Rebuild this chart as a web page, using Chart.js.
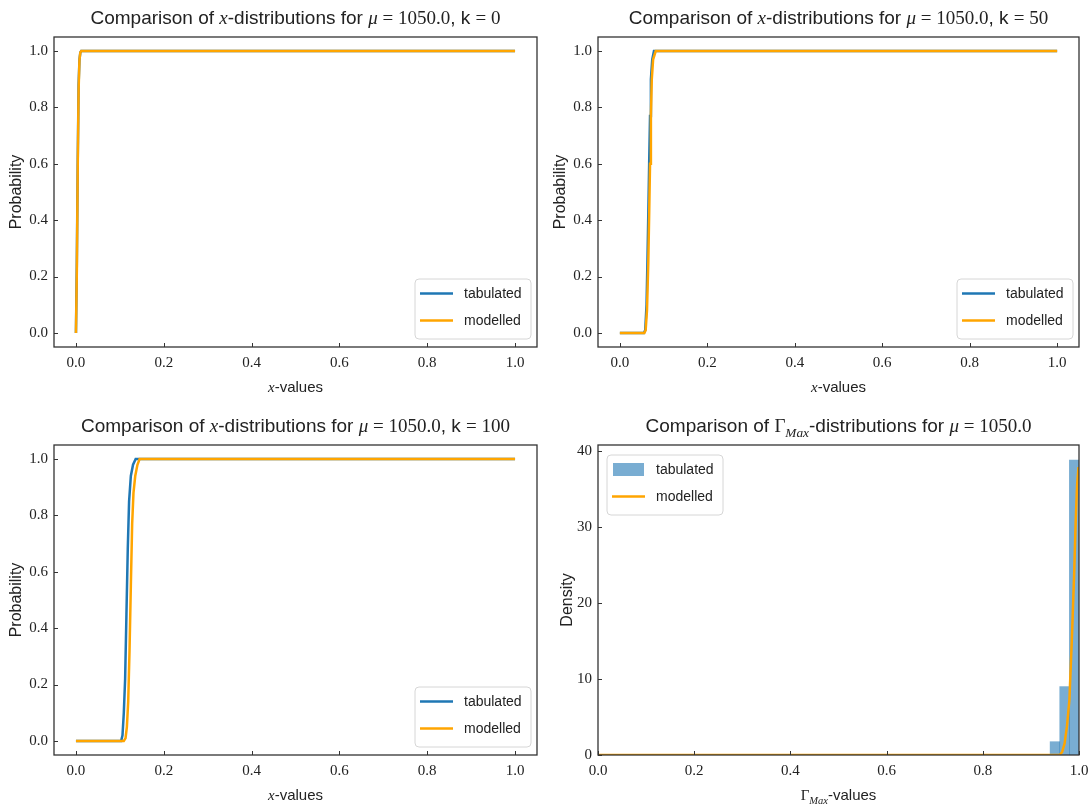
<!DOCTYPE html>
<html>
<head>
<meta charset="utf-8">
<script src="https://cdn.jsdelivr.net/npm/chart.js@4.4.1/dist/chart.umd.min.js"></script>
<style>
  html, body { margin: 0; padding: 0; background: #fff; overflow: hidden; }
  #wrap { position: relative; width: 1090px; height: 808px; overflow: hidden; }
  #wrap canvas { position: absolute; left: 0; top: 0; }
</style>
</head>
<body>
<div id="wrap">
  <canvas id="k0" width="1130" height="808"></canvas>
  <canvas id="k50" width="1130" height="808"></canvas>
  <canvas id="k100" width="1130" height="808"></canvas>
  <canvas id="gmax" width="1130" height="808"></canvas>
</div>
<script>
// ---- DATA ----
const X_TICKS = [0, 0.2, 0.4, 0.6, 0.8, 1.0];
const PROB_TICKS = [0, 0.2, 0.4, 0.6, 0.8, 1.0];
const DENSITY_TICKS = [0, 10, 20, 30, 40];

// k = 0 (both curves practically identical)
const K0_TAB_X = [0, 0.002, 0.004, 0.006, 0.008, 0.010, 0.012, 1.0];
const K0_TAB_Y = [0, 0.25, 0.60, 0.88, 0.97, 0.995, 1.0, 1.0];
const K0_MOD_X = [0, 0.002, 0.004, 0.006, 0.008, 0.010, 0.012, 1.0];
const K0_MOD_Y = [0, 0.22, 0.58, 0.86, 0.97, 0.995, 1.0, 1.0];

// k = 50
const K50_TAB_X = [0, 0.055, 0.058, 0.061, 0.063, 0.065, 0.067, 0.069, 0.071, 0.074, 0.078, 1.0];
const K50_TAB_Y = [0, 0, 0.01, 0.10, 0.25, 0.42, 0.60, 0.77, 0.90, 0.97, 1.0, 1.0];
const K50_MOD_X = [0, 0.056, 0.059, 0.062, 0.065, 0.067, 0.069, 0.071, 0.073, 0.076, 0.082, 1.0];
const K50_MOD_Y = [0, 0, 0.01, 0.08, 0.25, 0.42, 0.60, 0.77, 0.90, 0.97, 1.0, 1.0];

// k = 100
const K100_TAB_X = [0, 0.103, 0.106, 0.109, 0.112, 0.115, 0.118, 0.121, 0.125, 0.130, 0.136, 1.0];
const K100_TAB_Y = [0, 0, 0.02, 0.10, 0.22, 0.45, 0.68, 0.85, 0.94, 0.98, 1.0, 1.0];
const K100_MOD_X = [0, 0.109, 0.113, 0.116, 0.119, 0.122, 0.125, 0.128, 0.131, 0.135, 0.140, 0.145, 1.0];
const K100_MOD_Y = [0, 0, 0.01, 0.05, 0.14, 0.32, 0.55, 0.77, 0.88, 0.94, 0.98, 1.0, 1.0];

// Gamma_Max histogram (bin centres, width 0.02) + modelled density
const GMAX_BIN_X = [0.95, 0.97, 0.99];
const GMAX_DENSITY = [1.75, 9.0, 38.8];
const GMAX_MOD_X = [0, 0.96, 0.965, 0.97, 0.975, 0.98, 0.985, 0.99, 0.993, 0.996, 0.999];
const GMAX_MOD_Y = [0, 0, 0.4, 1.5, 3.8, 7.2, 15, 24, 30.5, 35.5, 37.9];

// ---- STYLE ----
const BLUE = "#1f77b4";
const ORANGE = "#ffa500";
const HIST_FILL = "rgba(31,119,180,0.6)";
const SANS = '"Liberation Sans", sans-serif';
const SERIF = '"Liberation Serif", serif';
const CANVAS_W = 1130; // wider than the page so the "1.0" label never squeezes the plot
const Y_AXIS_W = 45;
const X_AXIS_H = 40;

// plot areas in page pixels
const AREAS = {
  k0:   { left: 54,  top: 37,  right: 537,  bottom: 347 },
  k50:  { left: 598, top: 37,  right: 1079, bottom: 347 },
  k100: { left: 54,  top: 445, right: 537,  bottom: 755 },
  gmax: { left: 598, top: 445, right: 1079, bottom: 755 }
};

const xSeg = [{ t: "x", f: "it" }, { t: "-values", f: "sans" }];
function kTitle(k) {
  return [
    { t: "Comparison of ", f: "sans" }, { t: "x", f: "it" },
    { t: "-distributions for ", f: "sans" }, { t: "\u03bc", f: "it" },
    { t: " = 1050.0", f: "serif" }, { t: ", k ", f: "sans" }, { t: "= " + k, f: "serif" }
  ];
}

const PANELS = {
  k0:   { title: kTitle(0),   xTitle: xSeg, yTitle: "Probability", yOff: 33, legend: "lr" },
  k50:  { title: kTitle(50),  xTitle: xSeg, yTitle: "Probability", yOff: 33, legend: "lr" },
  k100: { title: kTitle(100), xTitle: xSeg, yTitle: "Probability", yOff: 33, legend: "lr" },
  gmax: {
    title: [
      { t: "Comparison of ", f: "sans" }, { t: "\u0393", f: "serif" }, { t: "Max", f: "it", sub: true },
      { t: "-distributions for ", f: "sans" }, { t: "\u03bc", f: "it" }, { t: " = 1050.0", f: "serif" }
    ],
    xTitle: [{ t: "\u0393", f: "serif" }, { t: "Max", f: "it", sub: true }, { t: "-values", f: "sans" }],
    yTitle: "Density", yOff: 26.5, legend: "ul"
  }
};

function segFont(seg, size) {
  if (seg.f === "it") return `italic ${size}px ${SERIF}`;
  if (seg.f === "serif") return `${size}px ${SERIF}`;
  return `${size}px ${SANS}`;
}

function drawRich(ctx, segs, cx, baseY, size) {
  let total = 0;
  const widths = segs.map(s => {
    ctx.font = segFont(s, s.sub ? size * 0.7 : size);
    const w = ctx.measureText(s.t).width;
    total += w;
    return w;
  });
  let x = cx - total / 2;
  ctx.textAlign = "left";
  ctx.textBaseline = "alphabetic";
  segs.forEach((s, i) => {
    ctx.font = segFont(s, s.sub ? size * 0.7 : size);
    ctx.fillText(s.t, x, baseY + (s.sub ? size * 0.25 : 0));
    x += widths[i];
  });
}

function drawLegend(ctx, area, corner, items) {
  const w = 116, h = 60;
  const x = corner === "lr" ? area.right - 6 - w : area.left + 9;
  const y = corner === "lr" ? area.bottom - 8 - h : area.top + 10;
  ctx.save();
  ctx.beginPath();
  ctx.roundRect(x, y, w, h, 4);
  ctx.fillStyle = "rgba(255,255,255,0.85)";
  ctx.fill();
  ctx.strokeStyle = "#d6d6d6";
  ctx.lineWidth = 1;
  ctx.stroke();
  items.forEach((it, i) => {
    const ry = y + 14.5 + i * 27;
    if (it.patch) {
      ctx.fillStyle = it.color;
      ctx.fillRect(x + 6, ry - 6.5, 31, 13);
    } else {
      ctx.strokeStyle = it.color;
      ctx.lineWidth = 2.5;
      ctx.beginPath();
      ctx.moveTo(x + 5, ry);
      ctx.lineTo(x + 38, ry);
      ctx.stroke();
    }
    ctx.fillStyle = "#222";
    ctx.font = `14px ${SANS}`;
    ctx.textAlign = "left";
    ctx.textBaseline = "middle";
    ctx.fillText(it.label, x + 49, ry + 1);
  });
  ctx.restore();
}

// frame, inward ticks, titles and legend
const framePlugin = {
  id: "frame",
  afterDraw(chart) {
    const p = PANELS[chart.canvas.id];
    const { ctx, chartArea: a } = chart;
    const xs = chart.scales.x, ys = chart.scales.y;
    ctx.save();
    ctx.strokeStyle = "#333";
    ctx.lineWidth = 1;
    xs.ticks.forEach(t => {
      const px = Math.round(xs.getPixelForValue(t.value)) + 0.5;
      ctx.beginPath(); ctx.moveTo(px, a.bottom); ctx.lineTo(px, a.bottom - 4); ctx.stroke();
    });
    ys.ticks.forEach(t => {
      const py = Math.round(ys.getPixelForValue(t.value)) + 0.5;
      ctx.beginPath(); ctx.moveTo(a.left, py); ctx.lineTo(a.left + 4, py); ctx.stroke();
    });
    ctx.lineWidth = 1.3;
    ctx.strokeRect(a.left, a.top, a.right - a.left, a.bottom - a.top);

    ctx.fillStyle = "#222";
    const cx = (a.left + a.right) / 2;
    drawRich(ctx, p.title, cx, a.top - 13, 19);
    drawRich(ctx, p.xTitle, cx, a.bottom + 45, 15);

    ctx.translate(a.left - p.yOff, (a.top + a.bottom) / 2);
    ctx.rotate(-Math.PI / 2);
    ctx.font = `16px ${SANS}`;
    ctx.textAlign = "center";
    ctx.textBaseline = "alphabetic";
    ctx.fillText(p.yTitle, 0, 0);
    ctx.restore();

    const items = chart.data.datasets.slice().sort((d1, d2) => d2.order - d1.order).map(d => ({
      label: d.label,
      color: d.type === "bar" ? d.backgroundColor : d.borderColor,
      patch: d.type === "bar"
    }));
    drawLegend(ctx, a, p.legend, items);
  }
};

function zip(xs, ys) {
  return xs.map((x, i) => ({ x, y: ys[i] }));
}

function lineSet(label, color, xs, ys, order) {
  return {
    type: "line", label, data: zip(xs, ys), borderColor: color, backgroundColor: color,
    borderWidth: 2.5, pointRadius: 0, tension: 0, fill: false, order
  };
}

function scaleCfg(min, max, ticks, fmt, horizontal) {
  return {
    type: "linear", min, max, offset: false,
    grid: { display: false, drawTicks: false },
    border: { display: false },
    afterBuildTicks: s => { s.ticks = ticks.map(v => ({ value: v })); },
    afterFit: s => { if (horizontal) s.height = X_AXIS_H; else s.width = Y_AXIS_W; },
    ticks: {
      font: { family: SERIF, size: 15 }, color: "#222",
      padding: horizontal ? 7 : 6, maxRotation: 0, autoSkip: false,
      callback: fmt
    }
  };
}

function makeChart(id, datasets, xMin, xMax, yMin, yMax, yTicks, yFmt) {
  const a = AREAS[id];
  return new Chart(document.getElementById(id), {
    type: "bar",
    data: { datasets },
    options: {
      responsive: false,
      animation: false,
      events: [],
      layout: {
        padding: {
          left: a.left - Y_AXIS_W,
          top: a.top,
          right: CANVAS_W - a.right,
          bottom: 808 - a.bottom - X_AXIS_H
        }
      },
      plugins: { legend: { display: false }, tooltip: { enabled: false }, title: { display: false } },
      scales: {
        x: scaleCfg(xMin, xMax, X_TICKS, v => v.toFixed(1), true),
        y: scaleCfg(yMin, yMax, yTicks, yFmt, false)
      }
    },
    plugins: [framePlugin]
  });
}

const probFmt = v => v.toFixed(1);

makeChart("k0", [
  lineSet("tabulated", BLUE, K0_TAB_X, K0_TAB_Y, 1),
  lineSet("modelled", ORANGE, K0_MOD_X, K0_MOD_Y, 0)
], -0.05, 1.05, -0.05, 1.05, PROB_TICKS, probFmt);

makeChart("k50", [
  lineSet("tabulated", BLUE, K50_TAB_X, K50_TAB_Y, 1),
  lineSet("modelled", ORANGE, K50_MOD_X, K50_MOD_Y, 0)
], -0.05, 1.05, -0.05, 1.05, PROB_TICKS, probFmt);

makeChart("k100", [
  lineSet("tabulated", BLUE, K100_TAB_X, K100_TAB_Y, 1),
  lineSet("modelled", ORANGE, K100_MOD_X, K100_MOD_Y, 0)
], -0.05, 1.05, -0.05, 1.05, PROB_TICKS, probFmt);

makeChart("gmax", [
  {
    type: "bar", label: "tabulated", data: zip(GMAX_BIN_X, GMAX_DENSITY),
    backgroundColor: HIST_FILL, borderWidth: 0, barPercentage: 1, categoryPercentage: 1, order: 1
  },
  lineSet("modelled", ORANGE, GMAX_MOD_X, GMAX_MOD_Y, 0)
], 0, 1, 0, 40.8, DENSITY_TICKS, v => String(v));
</script>
</body>
</html>
